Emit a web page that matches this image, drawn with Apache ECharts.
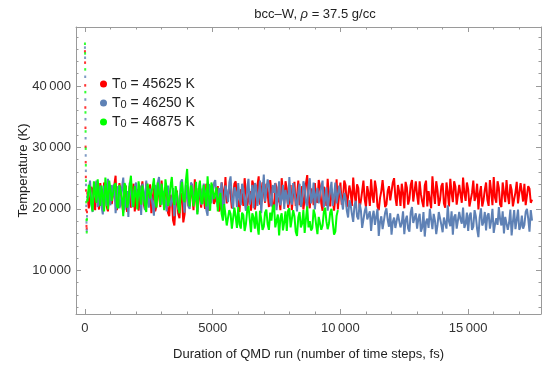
<!DOCTYPE html>
<html>
<head>
<meta charset="utf-8">
<script src="https://cdn.jsdelivr.net/npm/echarts@6/dist/echarts.min.js"></script>
<style>
html,body{margin:0;padding:0;background:#fff;}
#chart{width:550px;height:368px;}
</style>
</head>
<body>
<div id="chart"></div>
<script>
// ---- Data ----
const seriesLabels = ['45625', '46250', '46875'];
const seriesColors = ['#FF0000', '#5E81B5', '#00FF00'];

// main trajectories: values at t = 100, 200, 300 ... fs
const stepFs = 100;
const redT = [
  22400, 20300, 23100, 19800, 21900, 24200, 20600, 22800, 19600, 23500,
  21000, 25400, 20100, 22600, 19400, 23800, 21300, 20200, 24100, 21700,
  19700, 22900, 20800, 24300, 21200, 19300, 23400, 20500, 22200, 24600,
  20400, 22700, 18800, 21600, 17300, 23000, 18500, 21900, 19100, 23600,
  20900, 22100, 24800, 19500, 21800, 23300, 20000, 22500, 19600, 24000,
  21400, 23700, 20200, 22900, 25200, 20700, 22400, 19900, 24500, 21100,
  23200, 20500, 24700, 21600, 19700, 23900, 21300, 25300, 20800, 22600,
  24100, 20300, 22800, 19600, 23500, 21900, 25000, 20900, 23300, 21200,
  19800, 24400, 22000, 20600, 23700, 21500, 25500, 20100, 22900, 24200,
  21000, 23600, 19700, 22400, 24900, 20400, 23100, 21800, 19900, 24300,
  21700, 23900, 20600, 22700, 25100, 20900, 23400, 21300, 24600, 20300,
  22500, 24800, 21000, 23300, 19800, 22900, 24400, 20700, 23700, 21400,
  25000, 20500, 22800, 24100, 20100, 23500, 21600, 24700, 20900, 22300,
  24500, 21200, 23800, 20400, 22600, 25300, 20800, 23000, 21500, 24200,
  20200, 22700, 24900, 21100, 23600, 20600, 22400, 25100, 21300, 23200,
  20700, 24600, 22100, 19900, 23700, 21400, 24300, 20500, 22900, 25200,
  21000, 23400, 20300, 22600, 24700, 20800, 23100, 21600, 24400, 20600,
  22800, 24100, 20900, 23300, 21500
];
// values at the half steps t = 150, 250, 350 ... fs
const redMid = [
  20100, 23600, 21500, 24400, 19900, 22700, 24300, 20400, 22100, 20800,
  23900, 19800, 24200, 21100, 22400, 19500, 23700, 22500, 19600, 23200,
  21800, 24500, 19900, 22300, 24000, 21700, 19600, 23800, 20300, 21900,
  23500, 19400, 22300, 18100, 20700, 19200, 22600, 17800, 22400, 20500,
  23800, 19800, 21500, 23400, 20200, 21800, 24100, 19700, 22700, 20800,
  22100, 19600, 24300, 21400, 20900, 23600, 20100, 24100, 22000, 19500,
  22300, 25000, 20400, 22900, 24600, 19900, 23800, 20700, 24300, 21000,
  22600, 24700, 20300, 24200, 21100, 19800, 22700, 24500, 20200, 23900,
  22700, 20500, 24600, 21300, 19900, 24100, 21700, 23300, 20600, 21500,
  24700, 20900, 23600, 20500, 22000, 23300, 19700, 24800, 22400, 20700,
  24600, 20300, 23800, 20500, 22400, 24000, 20100, 22900, 21500, 23700,
  20500, 22200, 24600, 20400, 21800, 24700, 20300, 22900, 21400, 24300,
  21900, 23900, 20500, 22600, 24400, 20700, 23900, 21200, 24500, 20700,
  22400, 20300, 24600, 22900, 20100, 22700, 24500, 20500, 23700, 20900,
  24300, 20400, 22600, 24500, 20700, 23900, 21000, 22600, 24300, 20400,
  22600, 21300, 24100, 22500, 20400, 23100, 21500, 24700, 20600, 21800,
  24500, 20700, 24300, 21100, 22200, 24000, 20400, 22700, 20900, 24200,
  21200, 20600, 23700, 21000
];
const blueT = [
  21800, 24600, 19500, 22900, 20300, 23800, 19100, 22300, 24900, 20600,
  22100, 19300, 23700, 20800, 25100, 21400, 18700, 23200, 20400, 24300,
  21600, 19000, 22800, 24600, 20200, 23400, 18900, 22000, 25200, 20700,
  23100, 19600, 24100, 21300, 18800, 22600, 20500, 24800, 19400, 22200,
  20000, 23900, 21500, 19200, 24400, 20900, 22700, 18900, 23600, 21200,
  24700, 20300, 22500, 19500, 23800, 21100, 25300, 20000, 22800, 24200,
  20600, 23300, 19700, 24900, 21800, 20100, 23700, 22000, 19300, 25600,
  21300, 23900, 20400, 22600, 19800, 24500, 21700, 20000, 23100, 25200,
  20700, 22900, 19600, 24100, 21200, 23600, 20200, 25000, 21900, 19900,
  23400, 20800, 24600, 21500, 19700, 23000, 20500, 24300, 21100, 22500,
  19900, 21800, 18600, 20700, 17900, 21300, 18300, 19800, 17200, 20400,
  18000, 16400, 19700, 17300, 15600, 18800, 16900, 20100, 17100, 15800,
  18600, 16600, 19500, 17700, 15900, 18900, 16300, 20300, 17500, 16800,
  19200, 17000, 15500, 18400, 20000, 16700, 18100, 17400, 19600, 16200,
  18700, 20600, 17200, 15800, 19100, 16900, 18300, 20200, 17600, 16400,
  19400, 17100, 18800, 15400, 20100, 17800, 16500, 19300, 18000, 16100,
  18500, 20300, 17300, 16000, 19000, 17700, 15700, 19800, 18200, 16600,
  18900, 17400, 20000, 16300, 18100
];
const blueMid = [
  22900, 20900, 23400, 24600, 21000, 20400, 23800, 20500, 21700, 23900,
  24000, 21700, 20100, 23500, 19800, 22900, 24300, 20300, 23600, 21400,
  23800, 24100, 19800, 21500, 23300, 20600, 23900, 24300, 21400, 22900,
  21000, 23800, 20400, 23400, 21900, 19900, 24400, 21700, 23900, 20400,
  24300, 21000, 23800, 22600, 20700, 24100, 19800, 24000, 20900, 24200,
  21800, 23400, 24300, 20800, 22700, 24300, 21400, 23500, 20300, 21800,
  24100, 21200, 23200, 20700, 23900, 24200, 20500, 24600, 22700, 21200,
  24800, 21100, 23900, 24200, 22100, 20600, 23900, 23100, 20700, 21500,
  24200, 21300, 22800, 20300, 24500, 21100, 23800, 20900, 24300, 22400,
  20900, 23600, 20300, 23500, 21600, 24400, 22100, 20900, 23800, 21300,
  22600, 19700, 21400, 19100, 20600, 18800, 20900, 16900, 19600, 18300,
  19600, 18700, 17400, 20000, 17900, 16700, 19400, 18200, 19300, 17900,
  16900, 19200, 17000, 19600, 18200, 16800, 19400, 17700, 19300, 18400,
  16300, 19500, 17900, 16900, 18300, 19200, 15900, 19500, 17400, 18600,
  16800, 17900, 19600, 18700, 16800, 19500, 17600, 16900, 19400, 18900,
  16600, 19800, 16700, 18600, 17300, 19500, 18900, 16800, 20000, 17500,
  17400, 18300, 19600, 18700, 16600, 19900, 17900, 16700, 19900, 17100,
  16800, 19500, 18400, 19800
];
const greenT = [
  21200, 23400, 19600, 22600, 24800, 20500, 22100, 25100, 19900, 23200,
  21600, 24200, 20100, 22900, 18800, 23600, 21000, 25400, 20300, 22400,
  24500, 20700, 22200, 19500, 23900, 21400, 25000, 20200, 22700, 24100,
  19800, 23300, 21500, 25200, 20600, 22500, 19300, 24400, 21100, 26500,
  20400, 23000, 21900, 19100, 24600, 20800, 22300, 25300, 19700, 23100,
  21300, 19600, 22600, 18100, 20500, 17400, 19200, 16500, 18700, 20300,
  16800, 19000, 17500, 20500, 16200, 18600, 19600, 15800, 18300, 17100,
  19900, 16600, 18100, 20700, 17300, 15700, 19300, 17800, 16400, 20100,
  17200, 18800, 15600, 19500, 17600, 16100, 20400, 18000, 16900, 19100,
  15900, 18500, 17300, 20200, 16700, 19400, 17800, 16300, 19800
];
const greenMid = [
  23900, 20800, 24500, 21000, 22300, 23800, 19600, 22900, 24600, 21300,
  23800, 20500, 23900, 21700, 24200, 20200, 23800, 21800, 23700, 19900,
  22600, 23800, 20600, 24100, 21700, 23600, 21300, 24300, 20600, 22400,
  24800, 20500, 23700, 22100, 23700, 20400, 23000, 21600, 24600, 22000,
  23800, 20400, 24400, 22800, 21200, 23900, 20400, 22000, 24300, 21600,
  23500, 21700, 19200, 20800, 17300, 19800, 16800, 20200, 16900, 17500,
  19400, 16400, 19700, 18300, 19300, 16800, 17300, 19700, 16600, 19400,
  17500, 19400, 20200, 17000, 19100, 18500, 16500, 19600, 19700, 17000,
  19800, 16300, 18600, 17000, 19800, 18400, 17000, 16500, 19900, 17400,
  18700, 16600, 19500, 18000, 17600, 20000, 15800, 18900
];

// initial cooling transient (first ~90 fs)
const startTimes = [0, 5, 10, 15, 20, 25, 30, 35, 40, 50, 60, 70, 80, 90];
const redStart   = [45625, 43800, 40100, 36500, 33200, 30100, 27600, 25200, 23000, 19800, 17200, 16800, 19500, 22600];
const blueStart  = [46250, 44600, 41500, 37800, 34600, 31500, 28700, 26200, 23900, 20500, 17800, 16500, 18800, 21900];
const greenStart = [46875, 45300, 42700, 39000, 35700, 32600, 29800, 27100, 24600, 21100, 18200, 16200, 18300, 21400];

// axes
const xMajor = [0, 5000, 10000, 15000];
const xMinor = [1000, 2000, 3000, 4000, 6000, 7000, 8000, 9000, 11000, 12000, 13000, 14000, 16000, 17000];
const yMajor = [10000, 20000, 30000, 40000];
const yMinor = [4000, 6000, 8000, 12000, 14000, 16000, 18000, 22000, 24000, 26000, 28000, 32000, 34000, 36000, 38000, 42000, 44000, 46000, 48000];
const xRange = [-350, 17850];
const yRange = [2900, 49600];

const titleText = 'bcc\u2013W, ';
const xName = 'Duration of QMD run (number of time steps, fs)';
const yName = 'Temperature (K)';

// ---- Build ----
const FONT = '"Liberation Sans", Arial, sans-serif';
const FRAME = '#9a9a9a';
function fmt(v){
  if (v >= 10000) { return Math.floor(v/1000) + '\u2009' + String(v % 1000).padStart(3, '0'); }
  return String(v);
}
function merged(vals, mids){
  const out = [];
  vals.forEach((v, i) => {
    out.push([(i + 1) * stepFs, v]);
    if (i < mids.length) out.push([(i + 1) * stepFs + stepFs / 2, mids[i]]);
  });
  return out;
}
function zip(ts, vs){ return ts.map((t, i) => [t, vs[i]]); }

function axis(kind, pos, ticks, len, withLine, withLabels, extra){
  const range = kind === 'x' ? xRange : yRange;
  const a = {
    type: 'value', min: range[0], max: range[1], position: pos,
    gridIndex: 0,
    axisLine: { show: withLine, onZero: false, lineStyle: { color: FRAME, width: 1 } },
    axisTick: { show: true, inside: true, length: len, customValues: ticks, lineStyle: { color: FRAME, width: 1 } },
    axisLabel: withLabels ? { show: true, customValues: ticks, formatter: fmt, color: '#333', fontSize: 13, fontFamily: FONT, margin: kind === 'x' ? 8 : 5 } : { show: false },
    splitLine: { show: false }
  };
  return Object.assign(a, extra || {});
}

const main = [[redT, redMid], [blueT, blueMid], [greenT, greenMid]];
const starts = [redStart, blueStart, greenStart];
const names = seriesLabels.map(s => 'T0 = ' + s + ' K');
const series = [];
main.forEach((pair, k) => {
  series.push({
    type: 'line', name: names[k], data: merged(pair[0], pair[1]), xAxisIndex: 0, yAxisIndex: 0,
    showSymbol: false, symbol: 'none', sampling: null,
    lineStyle: { color: seriesColors[k], width: 2 }, itemStyle: { color: seriesColors[k] },
    z: 2 + k, silent: true
  });
});
starts.forEach((vals, k) => {
  series.push({
    type: 'scatter', name: names[k], data: zip(startTimes, vals), xAxisIndex: 0, yAxisIndex: 0,
    symbol: 'rect', symbolSize: [2, 2.5], itemStyle: { color: seriesColors[k] }, z: 2 + k, silent: true
  });
});

const option = {
  animation: false,
  backgroundColor: '#fff',
  title: {
    text: '{a|' + titleText + '}{i|\u03C1}{a| = 37.5 g/cc}',
    left: 310, top: 3, textAlign: 'center',
    textStyle: { fontWeight: 'normal', rich: {
      a: { fontSize: 13, fontFamily: FONT, fontWeight: 'normal', color: '#222' },
      i: { fontSize: 13, fontFamily: FONT, fontWeight: 'normal', fontStyle: 'italic', color: '#222' }
    } }
  },
  legend: {
    data: names.map((n, k) => ({ name: n, icon: 'circle', itemStyle: { color: seriesColors[k] } })),
    orient: 'vertical', left: 95, top: 72, itemWidth: 7, itemHeight: 7, itemGap: 4.5,
    formatter: function(n){ const k = names.indexOf(n); return '{t|T}{s|0}{t| = ' + seriesLabels[k] + ' K}'; },
    textStyle: { rich: {
      t: { fontSize: 14, fontFamily: FONT, color: '#222' },
      s: { fontSize: 11, fontFamily: FONT, color: '#222', padding: [4, 0, 0, 0] }
    } },
    selectedMode: false
  },
  grid: { left: 76, right: 9, top: 27, bottom: 54, containLabel: false },
  xAxis: [
    axis('x', 'bottom', xMajor, 5, true, true, {
      name: xName, nameLocation: 'middle', nameGap: 34,
      nameTextStyle: { fontSize: 13, fontFamily: FONT, color: '#222' }
    }),
    axis('x', 'bottom', xMinor, 2.5, false, false),
    axis('x', 'top', xMajor, 5, true, false),
    axis('x', 'top', xMinor, 2.5, false, false)
  ],
  yAxis: [
    axis('y', 'left', yMajor, 5, true, true, {
      name: yName, nameLocation: 'middle', nameGap: 46, nameRotate: 90, nameMoveOverlap: false,
      nameTextStyle: { fontSize: 13, fontFamily: FONT, color: '#222' }
    }),
    axis('y', 'left', yMinor, 2.5, false, false),
    axis('y', 'right', yMajor, 5, true, false),
    axis('y', 'right', yMinor, 2.5, false, false)
  ],
  series: series
};

const chart = echarts.init(document.getElementById('chart'), null, { renderer: 'canvas' });
chart.setOption(option);
</script>
</body>
</html>
